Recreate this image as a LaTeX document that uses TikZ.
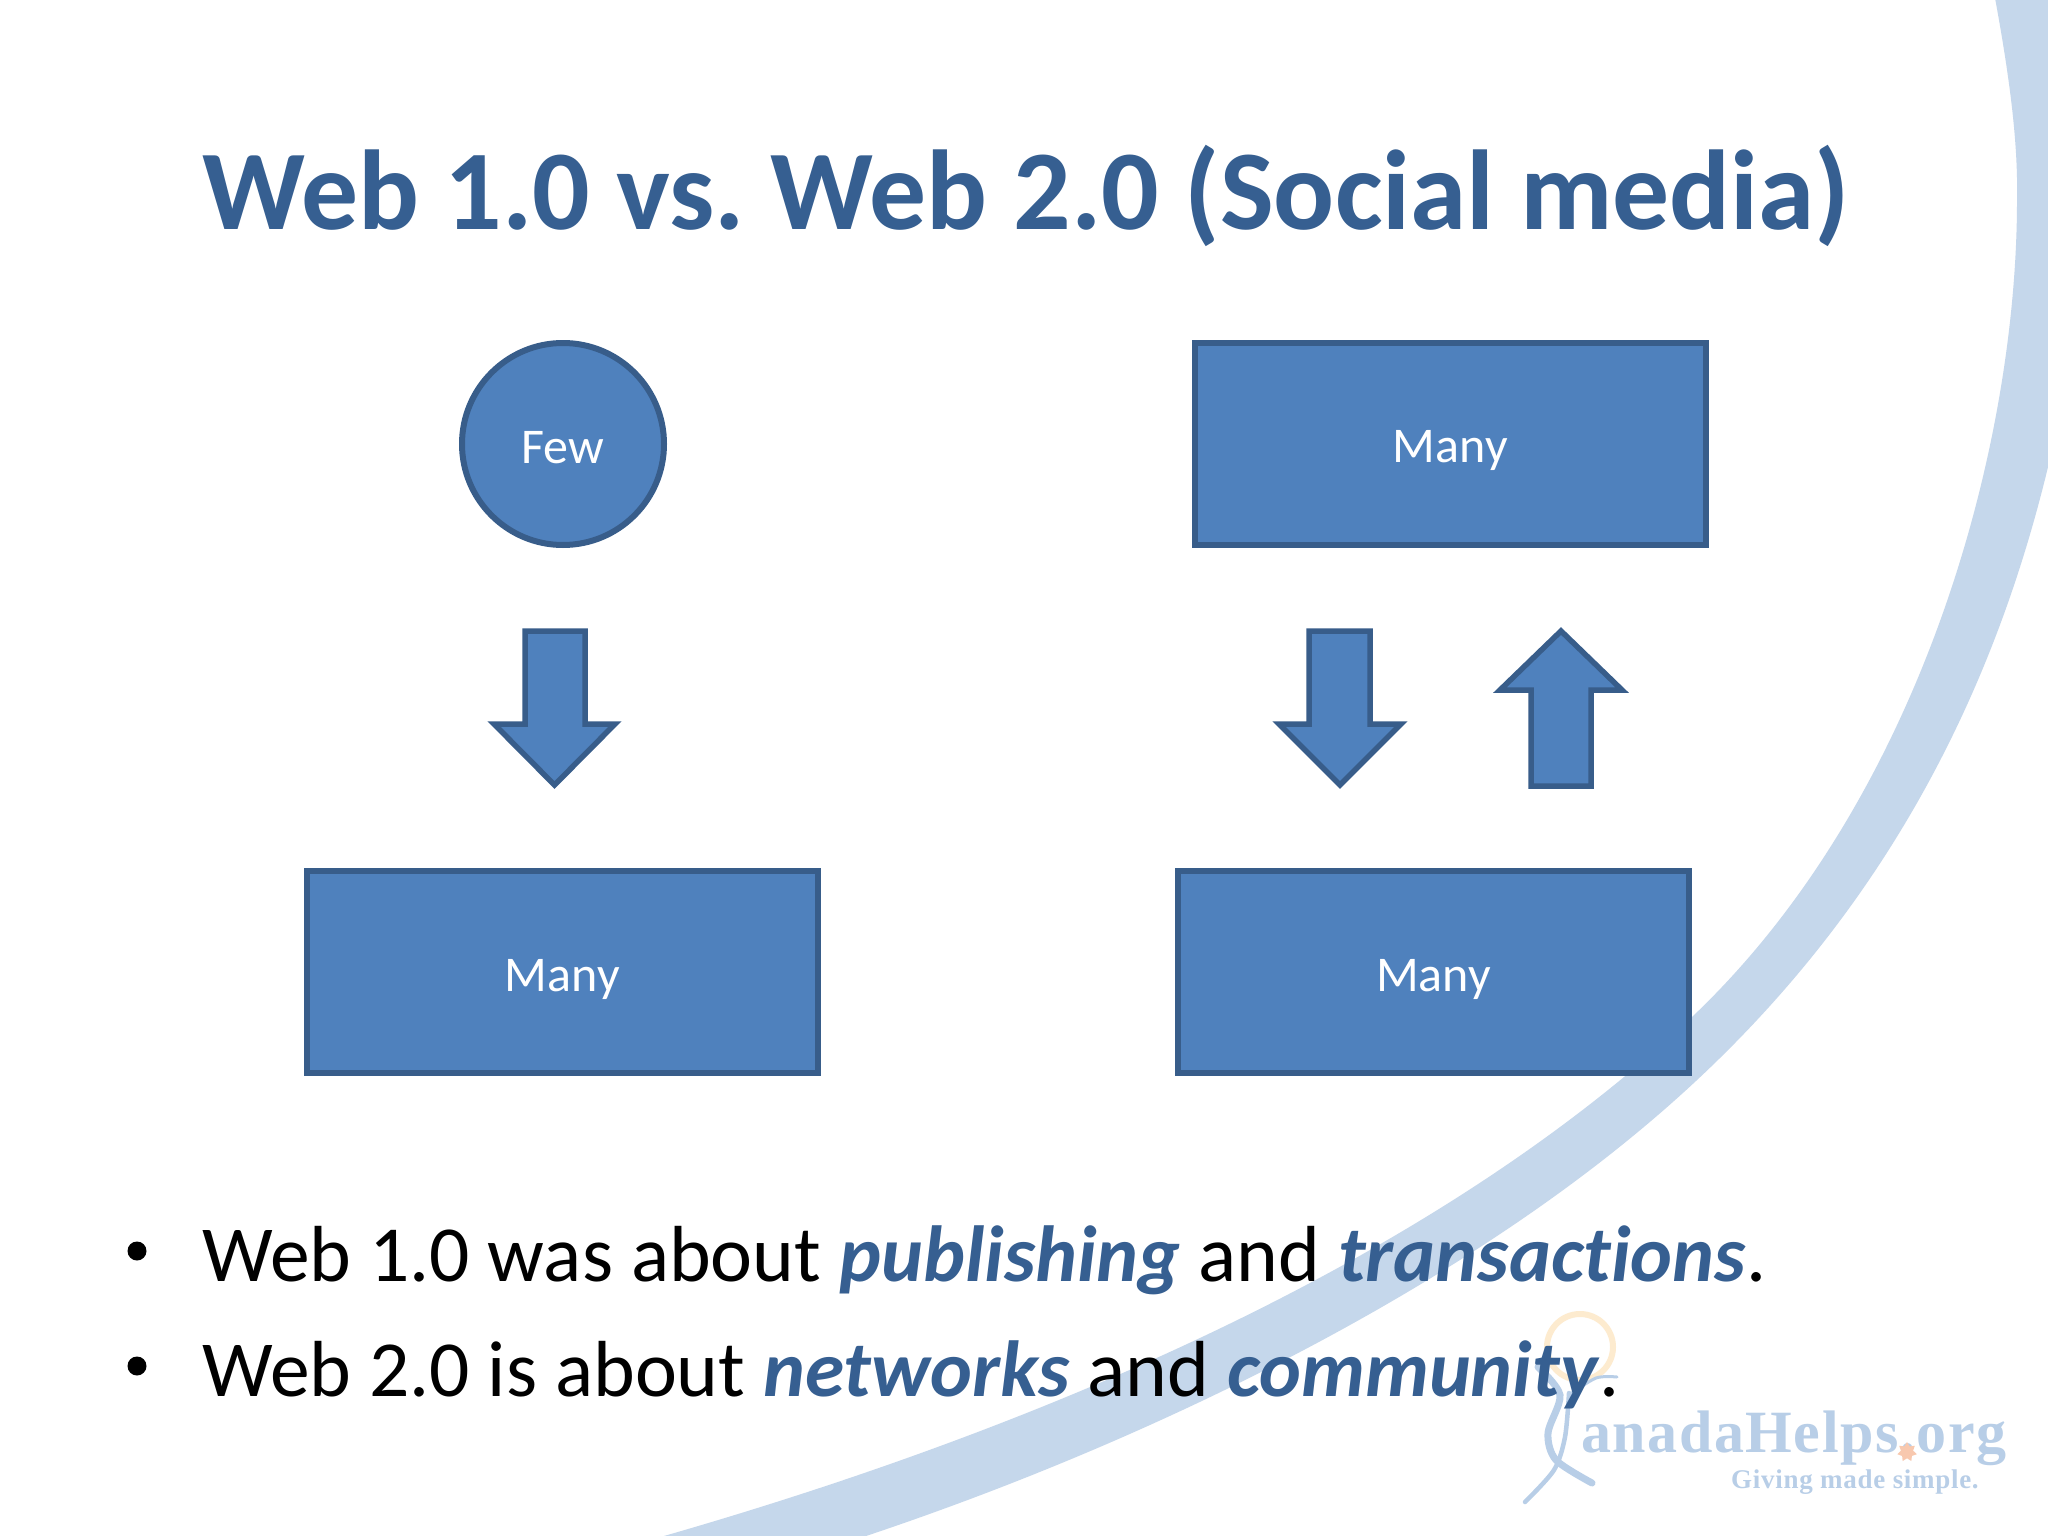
\documentclass[tikz,border=0pt]{standalone}
\usepackage{fontspec}
\usetikzlibrary{shapes.geometric}
\setmainfont[Ligatures=NoCommon]{Carlito}
\newfontfamily\logofont[LetterSpace=2.6]{Liberation Serif}
\definecolor{shapefill}{HTML}{4F81BD}
\definecolor{shapeline}{HTML}{385D8A}
\definecolor{titleblue}{HTML}{365F91}
\definecolor{bandblue}{HTML}{C5D7EB}
\definecolor{logoblue}{HTML}{B8CEE7}
\definecolor{ringcol}{HTML}{FDEBCF}
\definecolor{leafcol}{HTML}{F8C8AE}
\tikzset{
  x=1pt,y=-1pt,
  shapebox/.style={draw=shapeline,fill=shapefill,line width=6pt,text=white,inner sep=0pt,text height=38pt,text depth=0pt,font=\fontsize{50}{56}\selectfont},
  blockarrow/.style={draw=shapeline,fill=shapefill,line width=5.5pt,miter limit=10},
  bodytext/.style={anchor=base west,inner sep=0pt,font=\fontsize{79.5}{88}\selectfont,text=black},
  ribbon/.style={draw=logoblue,line cap=round,fill=none},
}
\newcommand{\emw}[1]{\textcolor{titleblue}{\textbf{\textit{#1}}}}
\frenchspacing
\begin{document}
\begin{tikzpicture}
\useasboundingbox (0,0) rectangle (2048,1536);
\fill[white] (0,0) rectangle (2048,1536);
% background band
\fill[bandblue] (1995,-2) .. controls (2012,90) and (2018,150) .. (2017,200)
  .. controls (2017,450) and (1920,800) .. (1693,1016)
  .. controls (1420,1275) and (1000,1440) .. (657,1538)
  -- (860,1538)
  .. controls (1140,1445) and (1430,1303) .. (1633,1136)
  .. controls (1860,950) and (1990,720) .. (2052,450)
  -- (2052,-2) -- cycle;
% logo
\draw[ringcol,line width=6pt] (1580,1347) circle (33);
\draw[ribbon,line width=7pt] plot[smooth] coordinates {(1538,1367) (1560,1395) (1548,1433) (1556,1460) (1592,1483)};
\draw[ribbon,line width=4.5pt] plot[smooth] coordinates {(1569,1393) (1565,1437) (1554,1470) (1525,1502)};
\draw[ribbon,line width=3pt] plot[smooth] coordinates {(1617,1377) (1596,1378) (1569,1395)};
\node[anchor=base west,inner sep=0pt,text=logoblue] (logotext) at (1581,1452) {\logofont\fontsize{60}{60}\selectfont\bfseries anadaHelps.org};
\node[star,star points=7,star point ratio=1.6,fill=leafcol,inner sep=0pt,minimum size=20pt] (leaf) at (1907,1452) {};
\node[anchor=base west,inner sep=0pt,text=logoblue] (logotag) at (1731,1488) {\logofont\fontsize{27}{30}\selectfont\bfseries Giving made simple.};
% title
\node[anchor=base west,inner sep=0pt,text=titleblue] (title) at (202,229) {\fontsize{113.6}{130}\selectfont\bfseries Web 1.0 vs. Web 2.0 (Social media)};
% shapes
\node[shapebox,circle,minimum size=202pt] (few) at (563,444) {Few};
\node[shapebox,rectangle,minimum width=511pt,minimum height=202pt] (manyTR) at (1450.3,443.5) {Many};
\node[shapebox,rectangle,minimum width=511pt,minimum height=202pt] (manyBL) at (562.3,972.3) {Many};
\node[shapebox,rectangle,minimum width=511pt,minimum height=202pt] (manyBR) at (1433.4,972.3) {Many};
% block arrows
\draw[blockarrow] (525,631) -- (585,631) -- (585,724) -- (615,724) -- (554.5,785) -- (494,724) -- (525,724) -- cycle;
\draw[blockarrow] (1309,631) -- (1370,631) -- (1370,724) -- (1401,724) -- (1340,785) -- (1279,724) -- (1309,724) -- cycle;
\draw[blockarrow] (1561,631) -- (1622,690) -- (1591,690) -- (1591,786) -- (1531,786) -- (1531,690) -- (1500,690) -- cycle;
% bullets
\fill[black] (137,1251) circle (9.5);
\fill[black] (137,1366) circle (9.5);
\node[bodytext] (line1) at (202,1281) {Web 1.0 was about \emw{publishing} and \emw{transactions}.};
\node[bodytext] (line2) at (202,1396) {Web 2.0 is about \emw{networks} and \emw{community}.};
\end{tikzpicture}
\end{document}
